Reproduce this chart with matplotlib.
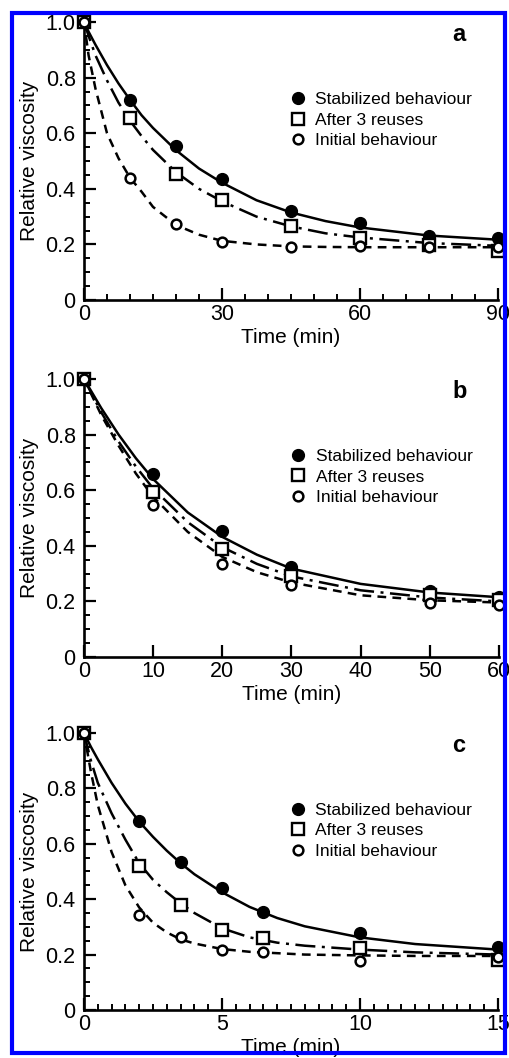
import matplotlib
matplotlib.use("Agg")
import matplotlib.pyplot as plt
from matplotlib.patches import Rectangle
from matplotlib.ticker import MultipleLocator, NullLocator

plt.rcParams['font.family'] = ['Liberation Sans', 'DejaVu Sans']

labels = ["Stabilized behaviour", "After 3 reuses", "Initial behaviour"]

# panel a
a_time = [0, 10, 20, 30, 45, 60, 75, 90]
a_stab = [1.0, 0.72, 0.555, 0.435, 0.32, 0.278, 0.232, 0.222]
a_reuse = [1.0, 0.655, 0.452, 0.36, 0.266, 0.222, 0.198, 0.178]
a_init = [1.0, 0.44, 0.274, 0.208, 0.192, 0.196, 0.192, 0.192]
a_fit_time = [0, 1, 2.5, 5, 7.5, 10, 12.5, 15, 20, 25, 30, 37.5, 45, 52.5, 60, 75, 90]
a_fit_stab = [1.0, 0.965, 0.918, 0.845, 0.779, 0.72, 0.665, 0.619, 0.539, 0.473,
              0.422, 0.359, 0.315, 0.284, 0.261, 0.232, 0.217]
a_fit_reuse = [1.0, 0.95, 0.88, 0.79, 0.71, 0.645, 0.59, 0.54, 0.46, 0.40,
               0.355, 0.30, 0.265, 0.24, 0.225, 0.205, 0.195]
a_fit_init = [1.0, 0.88, 0.76, 0.6, 0.51, 0.44, 0.39, 0.335, 0.27, 0.235,
              0.213, 0.2, 0.193, 0.191, 0.19, 0.19, 0.19]

# panel b
b_time = [0, 10, 20, 30, 50, 60]
b_stab = [1.0, 0.657, 0.453, 0.324, 0.238, 0.216]
b_reuse = [1.0, 0.594, 0.39, 0.292, 0.222, 0.204]
b_init = [1.0, 0.546, 0.336, 0.26, 0.196, 0.186]
b_fit_time = [0, 2.5, 5, 7.5, 10, 15, 20, 25, 30, 40, 50, 60]
b_fit_stab = [1.0, 0.895, 0.80, 0.715, 0.64, 0.52, 0.432, 0.368, 0.318, 0.263, 0.232, 0.215]
b_fit_reuse = [1.0, 0.88, 0.775, 0.685, 0.606, 0.485, 0.395, 0.335, 0.29, 0.24, 0.214, 0.2]
b_fit_init = [1.0, 0.87, 0.76, 0.66, 0.576, 0.45, 0.36, 0.305, 0.268, 0.222, 0.204, 0.196]

# panel c
c_time = [0, 2, 3.5, 5, 6.5, 10, 15]
c_stab = [1.0, 0.681, 0.533, 0.44, 0.352, 0.277, 0.229]
c_reuse = [1.0, 0.518, 0.38, 0.289, 0.259, 0.223, 0.181]
c_init = [1.0, 0.343, 0.263, 0.217, 0.211, 0.175, 0.193]
c_fit_time = [0, 0.25, 0.5, 1, 1.5, 2, 2.5, 3, 3.5, 4, 5, 6, 7, 8, 10, 12, 15]
c_fit_stab = [1.0, 0.95, 0.905, 0.82, 0.745, 0.68, 0.625, 0.575, 0.53, 0.49,
              0.425, 0.372, 0.332, 0.302, 0.262, 0.238, 0.218]
c_fit_reuse = [1.0, 0.9, 0.82, 0.71, 0.615, 0.53, 0.47, 0.425, 0.385, 0.35,
               0.295, 0.262, 0.243, 0.232, 0.218, 0.208, 0.2]
c_fit_init = [1.0, 0.86, 0.74, 0.57, 0.45, 0.37, 0.315, 0.28, 0.255, 0.24,
              0.22, 0.21, 0.205, 0.2, 0.197, 0.195, 0.195]

SOLID = '-'
DASHDOT = (0, (8, 2.6, 1.2, 2.6))
DASHED = (0, (3.5, 2.5))


def draw_panel(ax, letter, t, ys, ft, fits, xmax, xmajor, xminor):
    styles = [SOLID, DASHDOT, DASHED]
    for fy, ls in zip(fits, styles):
        ax.plot(ft, fy, color='black', lw=1.8, ls=ls, zorder=2)
    h1, = ax.plot(t, ys[0], 'o', ms=8.5, mfc='black', mec='black', ls='none',
                  clip_on=False, zorder=3)
    h2, = ax.plot(t, ys[1], 's', ms=8, mfc='white', mec='black', mew=1.7,
                  ls='none', clip_on=False, zorder=3)
    h3, = ax.plot(t, ys[2], 'o', ms=7, mfc='white', mec='black', mew=1.8,
                  ls='none', clip_on=False, zorder=3)
    ax.legend([h1, h2, h3], labels, loc='upper left', bbox_to_anchor=(0.5, 0.748),
              frameon=False, fontsize=12.5, handlelength=0.8, handletextpad=0.6,
              labelspacing=0.3, borderpad=0, borderaxespad=0)
    ax.text(0.905, 0.955, letter, transform=ax.transAxes, fontsize=17,
            fontweight='bold', ha='center', va='center')

    ax.set_xlim(0, xmax)
    ax.set_ylim(0, 1.0)
    ax.xaxis.set_major_locator(MultipleLocator(xmajor))
    if xminor:
        ax.xaxis.set_minor_locator(MultipleLocator(xminor))
    else:
        ax.xaxis.set_minor_locator(NullLocator())
    ax.set_yticks([0, 0.2, 0.4, 0.6, 0.8, 1.0])
    ax.set_yticklabels(['0', '0.2', '0.4', '0.6', '0.8', '1.0'])
    ax.yaxis.set_minor_locator(MultipleLocator(0.05))

    for side in ('top', 'right'):
        ax.spines[side].set_visible(False)
    for side in ('left', 'bottom'):
        ax.spines[side].set_linewidth(1.9)
    ax.tick_params(which='major', direction='in', length=8.5, width=1.6,
                   labelsize=15.5, top=False, right=False)
    ax.tick_params(which='minor', direction='in', length=4.3, width=1.4,
                   top=False, right=False)
    ax.tick_params(axis='y', which='major', pad=6)
    ax.tick_params(axis='x', which='major', pad=3)
    ax.set_xlabel("Time (min)", fontsize=15, labelpad=2)
    ax.set_ylabel("Relative viscosity", fontsize=15, labelpad=5)


fig = plt.figure(figsize=(5.10, 10.58), dpi=100)
ax_a = fig.add_axes([0.1647, 0.7164, 0.8118, 0.2628])
ax_b = fig.add_axes([0.1647, 0.3790, 0.8137, 0.2628])
ax_c = fig.add_axes([0.1647, 0.0454, 0.8118, 0.2618])

draw_panel(ax_a, 'a', a_time, [a_stab, a_reuse, a_init], a_fit_time,
           [a_fit_stab, a_fit_reuse, a_fit_init], 90, 30, 5)
draw_panel(ax_b, 'b', b_time, [b_stab, b_reuse, b_init], b_fit_time,
           [b_fit_stab, b_fit_reuse, b_fit_init], 60, 10, None)
draw_panel(ax_c, 'c', c_time, [c_stab, c_reuse, c_init], c_fit_time,
           [c_fit_stab, c_fit_reuse, c_fit_init], 15, 5, 0.5)

frame = Rectangle((12.5 / 510, 1 - 1053 / 1058), (505 - 12.5) / 510, (1053 - 13) / 1058,
                  transform=fig.transFigure, fill=False, ec='#0000ff', lw=3, zorder=10)
fig.add_artist(frame)

fig.savefig("out.png", dpi=100)
